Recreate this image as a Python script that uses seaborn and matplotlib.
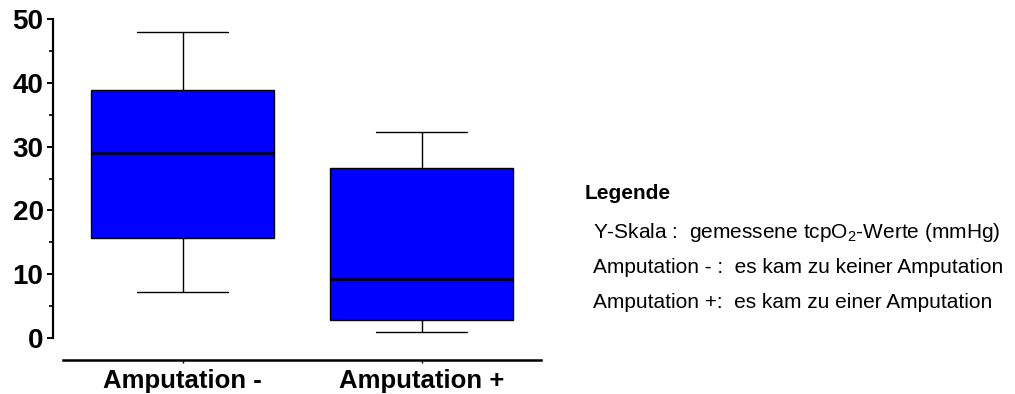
import matplotlib
matplotlib.use("Agg")
import matplotlib.pyplot as plt
import pandas as pd
import seaborn as sns
from matplotlib.ticker import MultipleLocator

sns.set_style("ticks")
plt.rcParams['font.family'] = ['Liberation Sans', 'DejaVu Sans']
plt.rcParams['text.color'] = 'black'
plt.rcParams['xtick.color'] = 'black'
plt.rcParams['ytick.color'] = 'black'
plt.rcParams['axes.edgecolor'] = 'black'
plt.rcParams['mathtext.fontset'] = 'custom'
plt.rcParams['mathtext.rm'] = 'Liberation Sans'
plt.rcParams['mathtext.it'] = 'Liberation Sans'

# five-number summaries: min, Q1, median, Q3, max
groups = ['Amputation -', 'Amputation +']
amp_minus = [7.2, 15.7, 29.0, 38.8, 48.0]
amp_plus = [0.9, 2.8, 9.2, 26.7, 32.3]

legend_title = 'Legende'
legend_lines = [
    r'Y-Skala :  gemessene tcpO$_\mathrm{2}$-Werte (mmHg)',
    'Amputation - :  es kam zu keiner Amputation',
    'Amputation +:  es kam zu einer Amputation',
]

df = pd.DataFrame({
    'Gruppe': [groups[0]] * len(amp_minus) + [groups[1]] * len(amp_plus),
    'tcpO2': amp_minus + amp_plus,
})

fig = plt.figure(figsize=(10.15, 3.94), dpi=100)
ax = fig.add_axes([0.0621, 0.1421, 0.471, 0.8096])

sns.boxplot(
    data=df, x='Gruppe', y='tcpO2', ax=ax,
    whis=(0, 100), width=0.766, color='#0000ff', saturation=1,
    linecolor='black', linewidth=1.0, showfliers=False,
    medianprops={'linewidth': 1.8, 'color': 'black'},
)

ax.set_xlim(-0.5, 1.5)
ax.set_ylim(0, 50)
ax.yaxis.set_major_locator(MultipleLocator(10))
ax.yaxis.set_minor_locator(MultipleLocator(5))
ax.set_xlabel('')
ax.set_ylabel('')

sns.despine(ax=ax)
ax.spines['left'].set_position(('outward', 7))
ax.spines['bottom'].set_position(('outward', 16))
ax.spines['left'].set_linewidth(1.6)
ax.spines['bottom'].set_linewidth(1.8)

ax.tick_params(axis='y', which='major', length=4.5, width=1.4, labelsize=20, pad=2.5)
ax.tick_params(axis='y', which='minor', length=3, width=1.2)
ax.tick_params(axis='x', length=2.5, width=1.0, labelsize=18.5, pad=3.5)
for lab in ax.get_yticklabels() + ax.get_xticklabels():
    lab.set_fontweight('bold')

fig.text(0.576, 0.51, legend_title, fontsize=15, fontweight='bold', va='center')
for i, line in enumerate(legend_lines):
    fig.text(0.584, 0.411 - i * 0.089, line, fontsize=15, va='center')

fig.savefig('out.png', dpi=100)
